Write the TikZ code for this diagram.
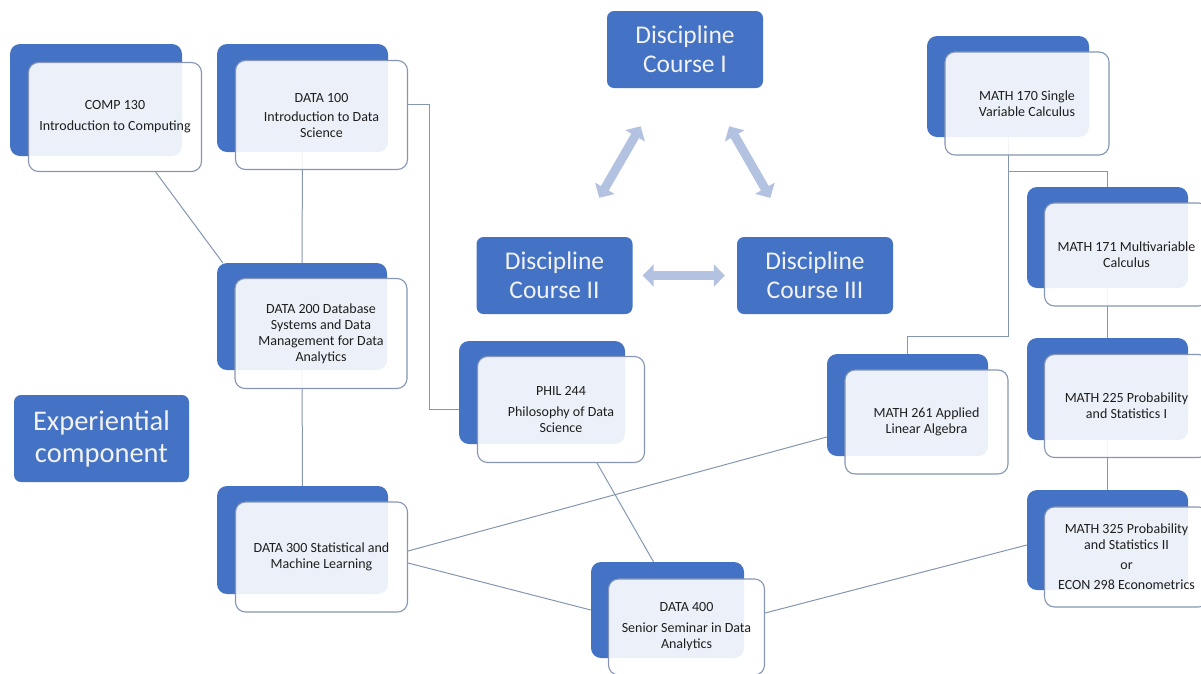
\documentclass[tikz,border=0pt]{standalone}
\usepackage{fontspec}
\setmainfont{Carlito}
\usepackage{xcolor}
\usepackage{tikz}
\usetikzlibrary{calc,backgrounds,arrows.meta,positioning}

\definecolor{cardblue}{HTML}{4472C4}
\definecolor{edgegray}{HTML}{8595B3}
\definecolor{linkgray}{HTML}{8497B0}
\definecolor{arrowblue}{HTML}{B4C2E2}
\definecolor{textdark}{HTML}{1E1E1E}

\begin{document}
\begin{tikzpicture} [x=1pt, y=-1pt,
       backcard/.style 2 args = {rectangle, rounded corners=10pt, minimum width=#1, minimum height=#2,
                                 inner sep=0pt, fill=cardblue, draw=none},
       frontcard/.style 2 args = {rectangle, rounded corners=10pt, minimum width=#1, minimum height=#2,
                                  inner sep=0pt, shift={(19,17)}, fill=white, fill opacity=0.9, text opacity=1,
                                  draw=edgegray, line width=1.1pt, text=textdark, align=center,
                                  font=\fontsize{14}{16}\selectfont},
       discipline/.style = {rectangle, rounded corners=7pt, minimum width=156, minimum height=77,
                            inner sep=0pt, fill=cardblue, text=white!95!black, align=center,
                            font=\fontsize{25.5}{29}\selectfont},
       link/.style = {draw=linkgray, line width=1pt},
       dblarrow/.style = {draw=arrowblue, line width=9pt,
                          {Triangle[width=22pt,length=11pt]}-{Triangle[width=22pt,length=11pt]}}]
	\useasboundingbox (0,0) rectangle (1201,673);
	%% Discipline courses
	\node [discipline] (dc1) at (685,49.5) {Discipline\\Course I};
	\node [discipline] (dc2) at (554.5,275.5) {Discipline\\Course II};
	\node [discipline] (dc3) at (815,275.5) {Discipline\\Course III};
	\draw [dblarrow, shorten <=44pt, shorten >=45pt] (dc1) -- (dc2);
	\draw [dblarrow, shorten <=44pt, shorten >=45pt] (dc1) -- (dc3);
	\draw [dblarrow, shorten <=10pt, shorten >=12pt] (dc2) -- (dc3);
	\node [discipline, minimum width=175, minimum height=87, font=\fontsize{28.5}{32}\selectfont]
	      (exp) at (101.5,438.5) {Experiential\\component};
	%% Data courses
	\node [backcard={172}{112}] (compb) at (96,100) {};
	\node [frontcard={173}{109}] (comp) at (compb) {COMP 130\\[5pt]Introduction to Computing};
	\node [backcard={171}{108}] (d100b) at (302.5,98) {};
	\node [frontcard={172}{109}] (d100) at (d100b) {DATA 100\\[3pt]Introduction to Data\\Science};
	\node [backcard={170}{107}] (d200b) at (302,316.5) {};
	\node [frontcard={172}{110}] (d200) at (d200b) {DATA 200 Database\\Systems and Data\\Management for Data\\Analytics};
	\node [backcard={166}{103}] (philb) at (542,392.5) {};
	\node [frontcard={167}{106}] (phil) at (philb) {PHIL 244\\[5pt]Philosophy of Data\\Science};
	\node [backcard={171}{108}] (d300b) at (302.5,540) {};
	\node [frontcard={172}{110}] (d300) at (d300b) {DATA 300 Statistical and\\Machine Learning};
	\node [backcard={153}{96}] (d400b) at (667.5,610) {};
	\node [frontcard={156}{96}] (d400) at (d400b) {DATA 400\\[5pt]Senior Seminar in Data\\Analytics};
	%% Math courses
	\node [backcard={162}{101}] (m170b) at (1008,86.5) {};
	\node [frontcard={164}{103}] (m170) at (m170b) {MATH 170 Single\\Variable Calculus};
	\node [backcard={161}{101}] (m171b) at (1107.5,237.5) {};
	\node [frontcard={164}{103}] (m171) at (m171b) {MATH 171 Multivariable\\Calculus};
	\node [backcard={161}{102}] (m225b) at (1107.5,389) {};
	\node [frontcard={164}{103}] (m225) at (m225b) {MATH 225 Probability\\and Statistics I};
	\node [backcard={161}{102}] (m261b) at (907.5,405) {};
	\node [frontcard={163}{104}] (m261) at (m261b) {MATH 261 Applied\\Linear Algebra};
	\node [backcard={161}{100}] (m325b) at (1107.5,540) {};
	\node [frontcard={164}{100}] (m325) at (m325b) {MATH 325 Probability\\and Statistics II\\[4pt]or\\[4pt]ECON 298 Econometrics};
	%% Links
	\begin{scope}[on background layer]
		\draw [link] (comp) -- ($(d200b.north west)+(6,0)$);
		\draw [link] (d100b) -- (d200b);
		\draw [link] (d200b) -- (d300b);
		\draw [link] ($(d100.east)+(0,-10.5)$) -- ++(21,0) |- (phil);
		\draw [link] ($(d300.east)+(0,-6)$) -- ($(m261b.west)+(0,32)$);
		\draw [link] ($(d300.east)+(0,6)$) -- (d400b.west);
		\draw [link] ($(phil.south)+(36,0)$) -- ($(d400b.north)+(-14,0)$);
		\draw [link] ($(d400.east)+(0,-14)$) -- ($(m325b.west)+(0,5)$);
		\draw [link] (m170b) |- ($(m171b.north)+(0,-15)$) -- (m171b);
		\draw [link] (m170b) |- ($(m261b.north)+(0,-17)$) -- (m261b);
		\draw [link] (m171b) -- (m225b);
		\draw [link] (m225b) -- (m325b);
	\end{scope}
\end{tikzpicture}
\end{document}
